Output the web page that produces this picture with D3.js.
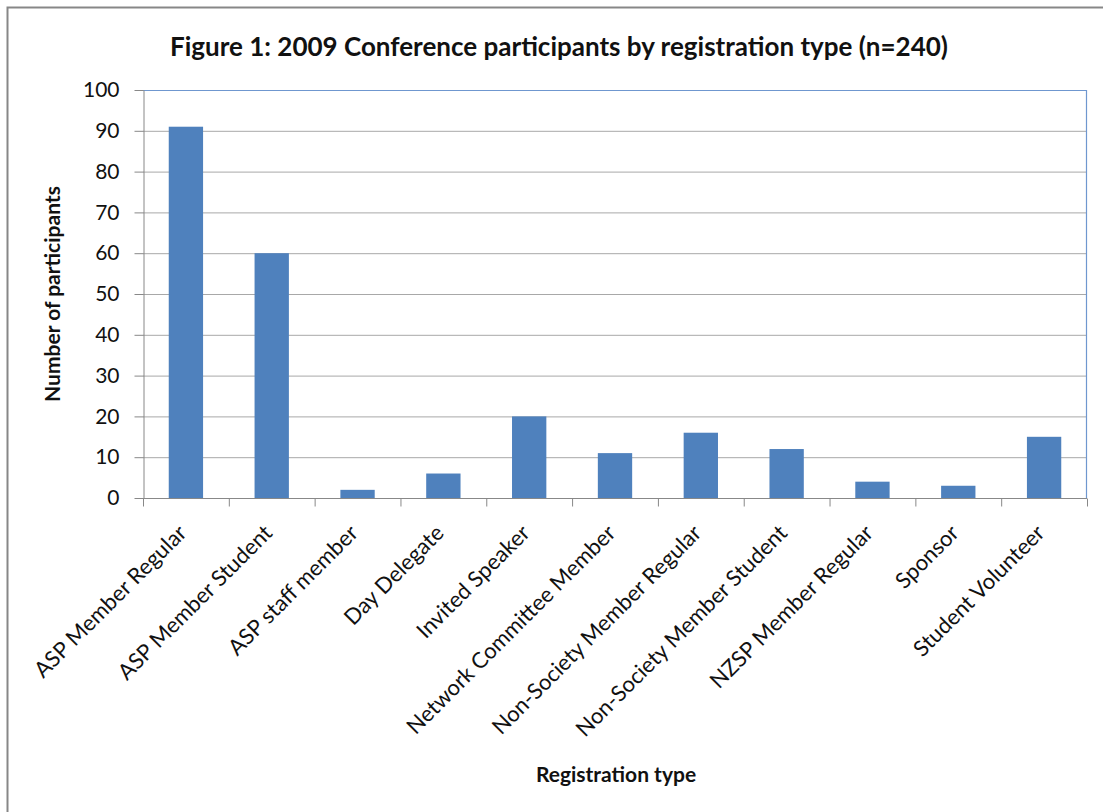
<!DOCTYPE html>
<html>
<head>
<meta charset="utf-8">
<script src="https://cdn.jsdelivr.net/npm/d3@7"></script>
<style>
  html, body { margin: 0; padding: 0; background: #fff; }
  svg { display: block; font-family: Lato, "Open Sans", sans-serif; }
</style>
</head>
<body>
<svg id="chart" width="1103" height="812"></svg>
<script>
const categories = [
  'ASP Member Regular', 'ASP Member Student', 'ASP staff member', 'Day Delegate',
  'Invited Speaker', 'Network Committee Member', 'Non-Society Member Regular',
  'Non-Society Member Student', 'NZSP Member Regular', 'Sponsor', 'Student Volunteer'
];
const participants = [91, 60, 2, 6, 20, 11, 16, 12, 4, 3, 15];
const yTicks = [0, 10, 20, 30, 40, 50, 60, 70, 80, 90, 100];

const svg = d3.select('#chart');
const W = 1103, H = 812;
const m = { left: 143, right: 1087, top: 90, bottom: 498 };

// outer chart frame (only top/left edges fall inside the picture)
svg.append('rect')
  .attr('x', 7.5).attr('y', 7.5)
  .attr('width', W + 20).attr('height', H + 20)
  .attr('fill', 'none').attr('stroke', '#878787').attr('stroke-width', 2);

const x = d3.scaleBand().domain(categories).range([m.left, m.right]).paddingInner(0.6).paddingOuter(0.3);
const xb = d3.scaleBand().domain(categories).range([m.left, m.right]);
const y = d3.scaleLinear().domain([0, 100]).range([m.bottom, m.top]);

// gridlines
svg.append('g').selectAll('line')
  .data(yTicks.filter(t => t > 0 && t < 100))
  .enter().append('line')
  .attr('x1', m.left).attr('x2', m.right)
  .attr('y1', d => y(d) + 0.5).attr('y2', d => y(d) + 0.5)
  .attr('stroke', '#a8a8a8').attr('stroke-width', 1);

// plot border top & right
svg.append('path')
  .attr('d', `M${m.left},${m.top + 0.5}H${m.right - 0.5}V${m.bottom}`)
  .attr('fill', 'none').attr('stroke', '#6f97cf').attr('stroke-width', 1.2);

// bars
svg.append('g').selectAll('rect')
  .data(participants)
  .enter().append('rect')
  .attr('x', (d, i) => x(categories[i]))
  .attr('width', x.bandwidth())
  .attr('y', d => y(d))
  .attr('height', d => y(0) - y(d))
  .attr('fill', '#4f81bd');

// y axis
const yAxis = svg.append('g')
  .attr('transform', `translate(${m.left + 0.5},0)`)
  .call(d3.axisLeft(y).tickValues(yTicks).tickSize(9).tickPadding(15).tickSizeOuter(0));
yAxis.select('.domain').attr('stroke', '#888');
yAxis.selectAll('.tick line').attr('stroke', '#888');
yAxis.selectAll('text').attr('font-size', 21).attr('fill', '#111')
  .attr('font-family', 'Lato, sans-serif');

// x axis: ticks at category boundaries
const xAxis = svg.append('g').attr('transform', `translate(0,${m.bottom + 0.5})`);
xAxis.append('line')
  .attr('x1', m.left).attr('x2', m.right)
  .attr('stroke', '#888');
xAxis.selectAll('.tk')
  .data(categories.concat(['end']))
  .enter().append('line')
  .attr('x1', (d, i) => (i < categories.length ? xb(d) : m.right) + 0.5)
  .attr('x2', (d, i) => (i < categories.length ? xb(d) : m.right) + 0.5)
  .attr('y1', 0).attr('y2', 8)
  .attr('stroke', '#888');

xAxis.selectAll('text')
  .data(categories)
  .enter().append('text')
  .attr('transform', d => `translate(${xb(d) + xb.bandwidth() / 2 - 9},${25}) rotate(-45)`)
  .attr('text-anchor', 'end')
  .attr('dy', '0.7em')
  .attr('font-size', 22)
  .attr('fill', '#111')
  .text(d => d);

// titles
svg.append('text')
  .attr('x', 559).attr('y', 56)
  .attr('text-anchor', 'middle')
  .attr('font-size', 26).attr('font-weight', 'bold').attr('fill', '#111')
  .text('Figure 1: 2009 Conference participants by registration type (n=240)');

svg.append('text')
  .attr('transform', `translate(60,${(m.top + m.bottom) / 2}) rotate(-90)`)
  .attr('text-anchor', 'middle')
  .attr('font-size', 21).attr('font-weight', 'bold').attr('fill', '#111')
  .text('Number of participants');

svg.append('text')
  .attr('x', 616).attr('y', 782)
  .attr('text-anchor', 'middle')
  .attr('font-size', 21).attr('font-weight', 'bold').attr('fill', '#111')
  .text('Registration type');
</script>
</body>
</html>
